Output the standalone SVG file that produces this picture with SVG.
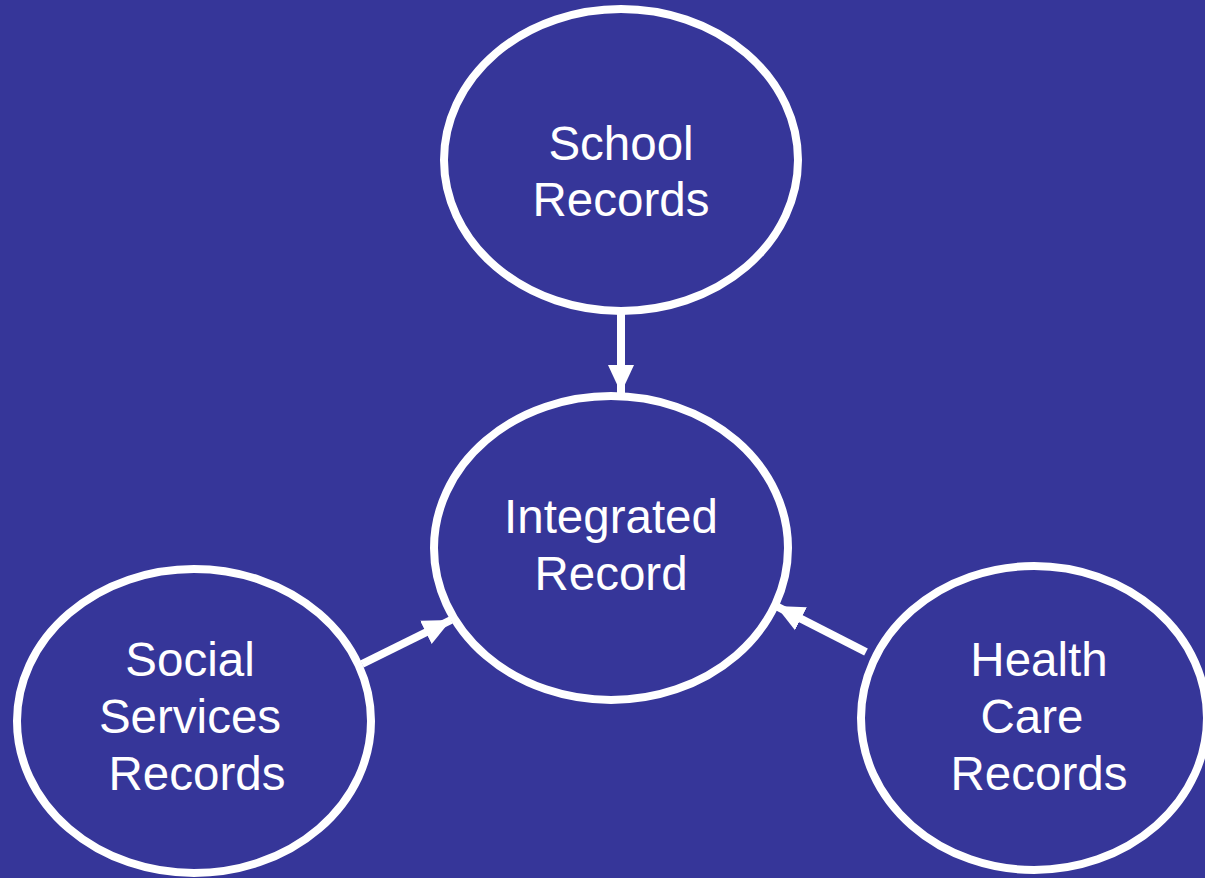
<svg xmlns="http://www.w3.org/2000/svg" width="1205" height="878" viewBox="0 0 1205 878">
<defs>
<style>
.n{fill:#363699;stroke:#fff;stroke-width:8}
.t{fill:#fff;font-family:"Liberation Sans",Arial,sans-serif;font-size:47.5px;text-anchor:middle}
.c{stroke:#fff;stroke-width:8;fill:none}
</style>
<marker id="ah" markerUnits="userSpaceOnUse" markerWidth="30" markerHeight="30" viewBox="0 0 30 30" refX="28" refY="15" orient="auto">
<path d="M0,2 L28,15 L0,28 Z" fill="#fff"/>
</marker>
</defs>
<rect width="1205" height="878" fill="#363699"/>
<g id="connectors">
<line class="c" x1="621" y1="314" x2="621" y2="393" marker-end="url(#ah)"/>
<line class="c" x1="362" y1="664" x2="451" y2="620" marker-end="url(#ah)"/>
<line class="c" x1="866" y1="652" x2="776" y2="606" marker-end="url(#ah)"/>
</g>
<g id="school">
<ellipse class="n" cx="621" cy="160" rx="177" ry="151"/>
<text class="t" x="621" y="160">School</text>
<text class="t" x="621" y="216">Records</text>
</g>
<g id="integrated">
<ellipse class="n" cx="611" cy="548" rx="177" ry="152"/>
<text class="t" x="611" y="533">Integrated</text>
<text class="t" x="611" y="590">Record</text>
</g>
<g id="social">
<ellipse class="n" cx="194" cy="721" rx="177" ry="152"/>
<text class="t" x="190" y="676">Social</text>
<text class="t" x="190" y="733">Services</text>
<text class="t" x="197" y="790">Records</text>
</g>
<g id="health">
<ellipse class="n" cx="1034" cy="718" rx="173" ry="152"/>
<text class="t" x="1039" y="676">Health</text>
<text class="t" x="1032" y="733">Care</text>
<text class="t" x="1039" y="790">Records</text>
</g>
</svg>
